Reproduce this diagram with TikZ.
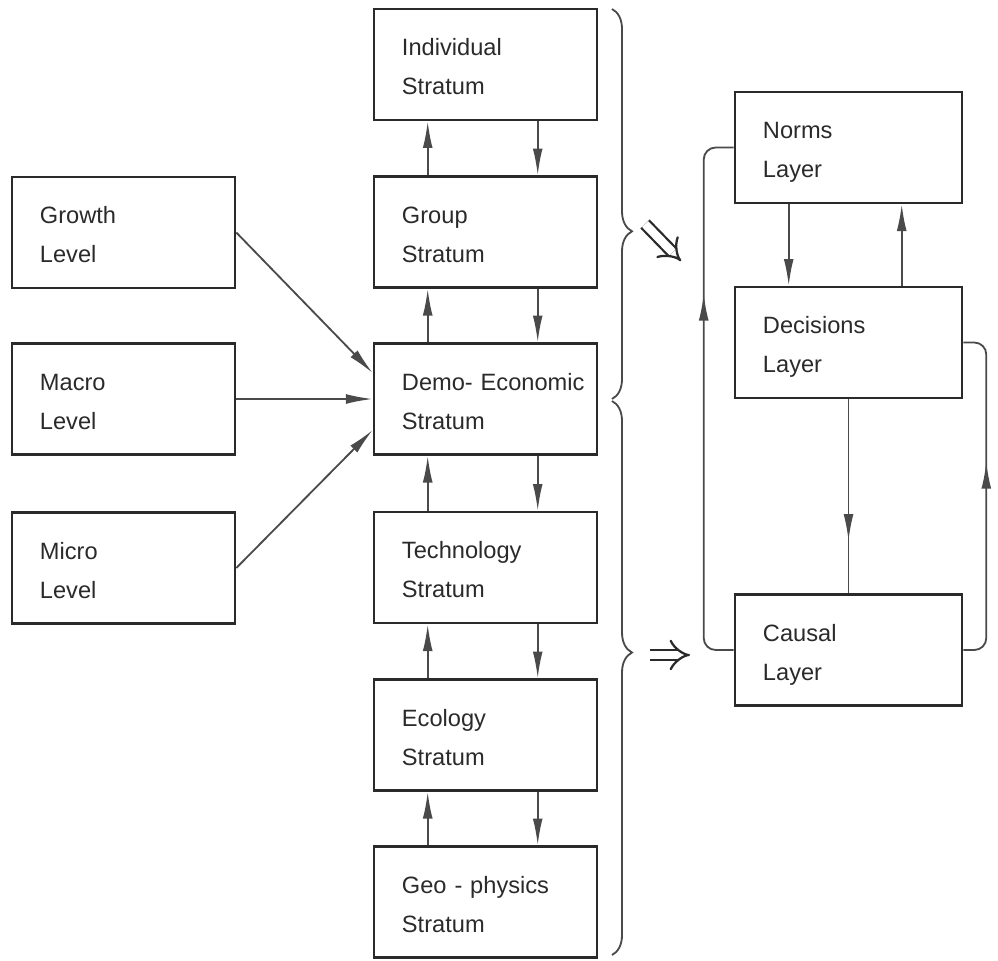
\documentclass[tikz,border=0pt]{standalone}
\usepackage{fontspec}
\setmainfont{Liberation Sans}
\usepackage{xcolor}
\usetikzlibrary{arrows.meta,calc,decorations.pathreplacing,decorations.markings}
\definecolor{ink}  {HTML}{2A2A2A}
\definecolor{wire} {HTML}{4A4A4A}
\newcommand{\topstrut}{\rule{0pt}{21.5pt}}
\newcommand{\botstrut}{\rule[-6.2pt]{0pt}{6.2pt}}
\tikzset{
  box/.style={draw=ink, line width=1.8pt, text width=4.175cm, inner xsep=0.7cm,
    inner ysep=0pt, minimum height=2.775cm, align=left, text=ink,
    font=\fontsize{16.8}{27.7}\selectfont,
    execute at begin node=\topstrut, execute at end node=\botstrut},
  layer/.style={box, text width=4.275cm},
  conn/.style={draw=wire, line width=1.3pt, ->},
  wire/.style={draw=wire, line width=1.3pt},
  midarrow/.style={postaction={decorate},
    decoration={markings, mark=at position #1 with {\arrow{>}}}},
  brc/.style={draw=wire, line width=1.3pt, decorate},
  dbl/.style={draw=ink, double=white, double distance=6pt, line width=1.6pt, -{Implies}}
}
\begin{document}
\begin{tikzpicture}[x=0.025cm,y=-0.025cm,>={Latex[length=19pt,width=7pt]}]
  \useasboundingbox (0,0) rectangle (998,960);
  % levels
  \foreach \nm/\txt/\y in {grw/Growth/232.5, mac/Macro/399, mic/Micro/568} {
    \node[box] (\nm) at (123.5,\y) {\txt\\Level};
  }
  % strata
  \foreach \nm/\txt/\y in {ind/Individual/64.5, grp/Group/232, dem/{\mbox{Demo- Economic}}/399,
      tec/Technology/567.5, eco/Ecology/735, geo/{Geo - physics}/902} {
    \node[box] (\nm) at (485.5,\y) {\txt\\Stratum};
  }
  % layers
  \node[layer] (nrm) at (848.5,147.5) {Norms\\Layer};
  \node[layer] (dec) at (848.5,342.5) {Decisions\\Layer};
  \node[layer] (cau) at (848.5,650) {Causal\\Layer};

  % levels into demo-economic stratum
  \draw[conn] (grw.east) -- ($(dem.west)+(0,-26)$);
  \draw[conn] (mac.east) -- (dem.west);
  \draw[conn] (mic.east) -- ($(dem.west)+(0,31)$);

  % up and down between strata
  \foreach \lo/\hi in {grp/ind, dem/grp, tec/dem, eco/tec, geo/eco} {
    \draw[conn] ($(\lo.north west)+(55,0)$) -- ($(\hi.south west)+(55,0)$);
    \draw[conn] ($(\hi.south west)+(165,0)$) -- ($(\lo.north west)+(165,0)$);
  }

  % layers
  \draw[conn] ($(nrm.south west)+(55,0)$) -- ($(dec.north west)+(55,0)$);
  \draw[conn] ($(dec.north west)+(168,0)$) -- ($(nrm.south west)+(168,0)$);
  \draw[wire, midarrow=0.73] (dec.south) -- (cau.north);
  \draw[wire, rounded corners=0.3cm, midarrow=0.69] (cau.west) -- ++(-30,0) |- (nrm.west);
  \draw[wire, rounded corners=0.3cm, midarrow=0.6] (cau.east) -- ++(23,0) |- (dec.east);

  % braces
  \coordinate (ubt) at (612,9);
  \coordinate (ubb) at (612,399);
  \coordinate (lbt) at (612,401);
  \coordinate (lbb) at (612,955);
  \draw[brc, decoration={brace, amplitude=0.5cm, aspect=0.57}] (ubt) -- (ubb);
  \draw[brc, decoration={brace, amplitude=0.5cm, aspect=0.454}] (lbt) -- (lbb);

  % implies
  \coordinate (d1s) at (645,224);
  \coordinate (d1e) at (681,261);
  \coordinate (d2s) at (650,655);
  \coordinate (d2e) at (690,655);
  \draw[dbl] (d1s) -- (d1e);
  \draw[dbl] (d2s) -- (d2e);
\end{tikzpicture}
\end{document}
